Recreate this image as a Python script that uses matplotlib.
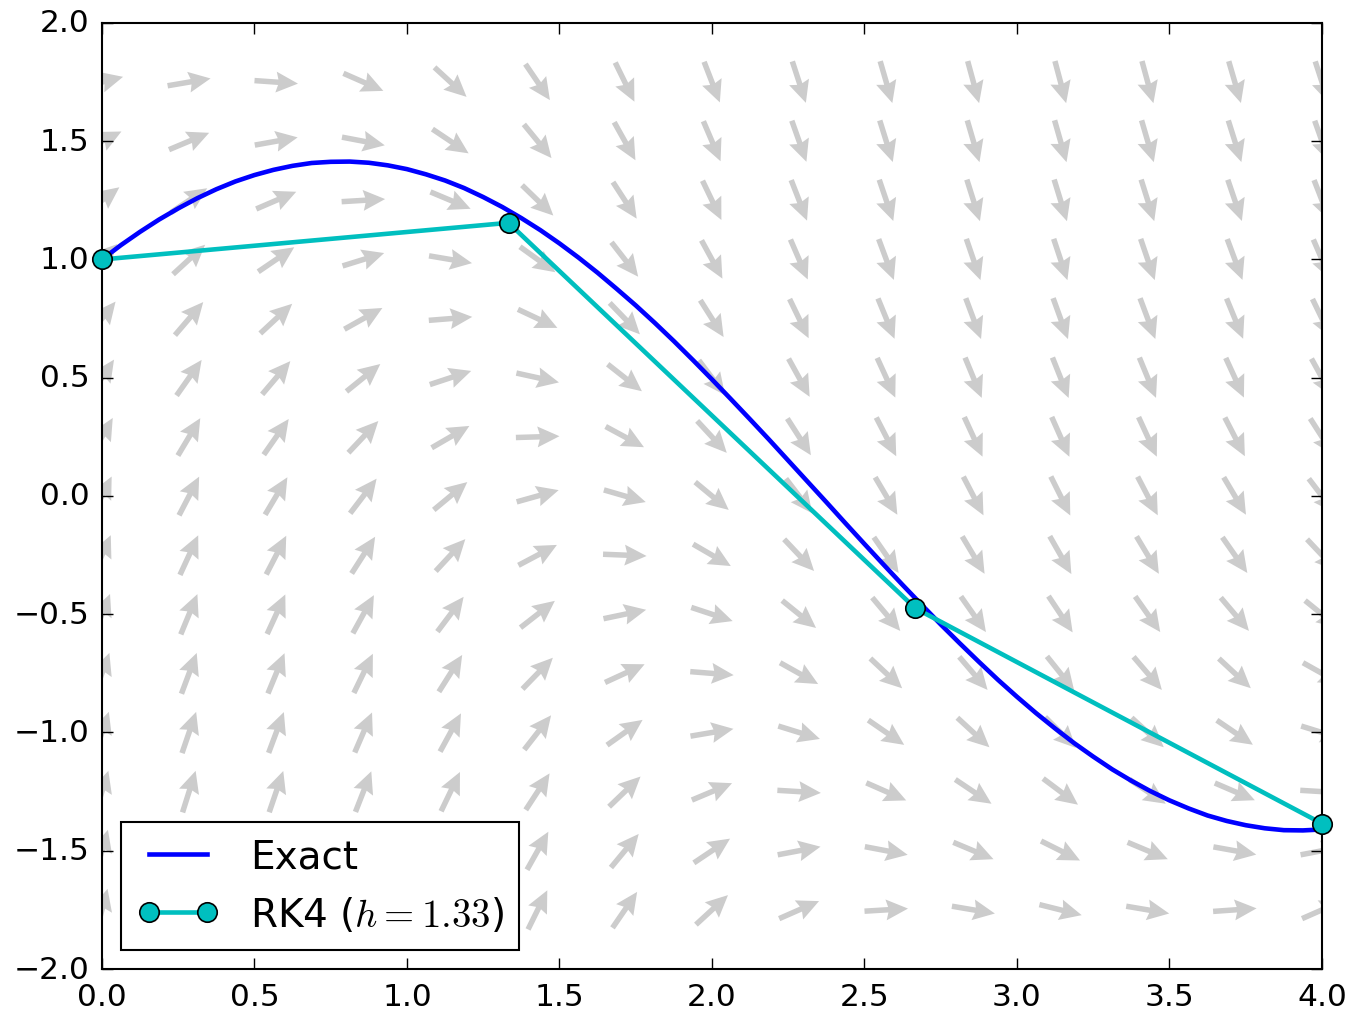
import numpy as np
import matplotlib
matplotlib.use('Agg')
import matplotlib.pyplot as plt

plt.style.use('classic')
plt.rcParams['mathtext.fontset'] = 'cm'
plt.rcParams['font.family'] = ['DejaVu Sans']

# exact solution
x_exact = [0.0, 0.0625, 0.125, 0.1875, 0.25, 0.3125, 0.375, 0.4375, 0.5, 0.5625,
           0.625, 0.6875, 0.75, 0.8125, 0.875, 0.9375, 1.0, 1.0625, 1.125, 1.1875,
           1.25, 1.3125, 1.375, 1.4375, 1.5, 1.5625, 1.625, 1.6875, 1.75, 1.8125,
           1.875, 1.9375, 2.0, 2.0625, 2.125, 2.1875, 2.25, 2.3125, 2.375, 2.4375,
           2.5, 2.5625, 2.625, 2.6875, 2.75, 2.8125, 2.875, 2.9375, 3.0, 3.0625,
           3.125, 3.1875, 3.25, 3.3125, 3.375, 3.4375, 3.5, 3.5625, 3.625, 3.6875,
           3.75, 3.8125, 3.875, 3.9375, 4.0]
y_exact = [1.000, 1.061, 1.117, 1.169, 1.216, 1.259, 1.297, 1.330, 1.357, 1.379,
           1.396, 1.408, 1.413, 1.414, 1.409, 1.398, 1.382, 1.360, 1.334, 1.302,
           1.264, 1.222, 1.175, 1.124, 1.068, 1.008, 0.944, 0.876, 0.806, 0.732,
           0.655, 0.575, 0.493, 0.409, 0.324, 0.238, 0.150, 0.062, -0.026, -0.115,
           -0.203, -0.290, -0.376, -0.460, -0.543, -0.623, -0.701, -0.777, -0.849, -0.918,
           -0.983, -1.045, -1.102, -1.156, -1.204, -1.248, -1.287, -1.321, -1.351, -1.374,
           -1.392, -1.405, -1.413, -1.414, -1.410]

# RK4 steps
x_rk4 = [0.0, 1.333, 2.667, 4.0]
y_rk4 = [1.0, 1.155, -0.475, -1.385]

# direction field: slope of each arrow, rows from y=-1.75 (bottom) to y=1.75 (top)
slopes = [
    [3.75, 3.67, 3.43, 3.06, 2.58, 2.03, 1.46, 0.92, 0.44, 0.06, -0.17, -0.25, -0.17, 0.07, 0.44],
    [3.50, 3.42, 3.18, 2.81, 2.33, 1.78, 1.21, 0.67, 0.19, -0.19, -0.42, -0.50, -0.42, -0.18, 0.19],
    [3.25, 3.17, 2.93, 2.56, 2.08, 1.53, 0.96, 0.42, -0.06, -0.44, -0.67, -0.75, -0.67, -0.43, -0.06],
    [3.00, 2.92, 2.68, 2.31, 1.83, 1.28, 0.71, 0.17, -0.31, -0.69, -0.92, -1.00, -0.92, -0.68, -0.31],
    [2.75, 2.67, 2.43, 2.06, 1.58, 1.03, 0.46, -0.08, -0.56, -0.94, -1.17, -1.25, -1.17, -0.93, -0.56],
    [2.50, 2.42, 2.18, 1.81, 1.33, 0.78, 0.21, -0.33, -0.81, -1.19, -1.42, -1.50, -1.42, -1.18, -0.81],
    [2.25, 2.17, 1.93, 1.56, 1.08, 0.53, -0.04, -0.58, -1.06, -1.44, -1.67, -1.75, -1.67, -1.43, -1.06],
    [2.00, 1.92, 1.68, 1.31, 0.83, 0.28, -0.29, -0.83, -1.31, -1.69, -1.92, -2.00, -1.92, -1.68, -1.31],
    [1.75, 1.67, 1.43, 1.06, 0.58, 0.03, -0.54, -1.08, -1.56, -1.94, -2.17, -2.25, -2.17, -1.93, -1.56],
    [1.50, 1.42, 1.18, 0.81, 0.33, -0.22, -0.79, -1.33, -1.81, -2.19, -2.42, -2.50, -2.42, -2.18, -1.81],
    [1.25, 1.17, 0.93, 0.56, 0.08, -0.47, -1.04, -1.58, -2.06, -2.44, -2.67, -2.75, -2.67, -2.43, -2.06],
    [1.00, 0.92, 0.68, 0.31, -0.17, -0.72, -1.29, -1.83, -2.31, -2.69, -2.92, -3.00, -2.92, -2.68, -2.31],
    [0.75, 0.67, 0.43, 0.06, -0.42, -0.97, -1.54, -2.08, -2.56, -2.94, -3.17, -3.25, -3.17, -2.93, -2.56],
    [0.50, 0.42, 0.18, -0.19, -0.67, -1.22, -1.79, -2.33, -2.81, -3.19, -3.42, -3.50, -3.42, -3.18, -2.81],
    [0.25, 0.17, -0.07, -0.44, -0.92, -1.47, -2.04, -2.58, -3.06, -3.44, -3.67, -3.75, -3.67, -3.43, -3.06],
]

fig = plt.figure(figsize=(13.52, 10.12), dpi=100, facecolor='white')
ax = fig.add_axes([0.0754, 0.0415, 0.9024, 0.9348])

S = np.array(slopes)
gx = np.linspace(0, 4, S.shape[1])
gy = np.linspace(-1.75, 1.75, S.shape[0])
X, Y = np.meshgrid(gx, gy)
norm = np.sqrt(1 + S**2)
ax.quiver(X, Y, 1 / norm, S / norm, color='0.8', pivot='mid',
          scale=28, width=0.0045, headwidth=3.8, headlength=4.0,
          headaxislength=3.6, zorder=1)

ax.plot(x_exact, y_exact, 'b-', lw=3.3, label='Exact', zorder=3)
ax.plot(x_rk4, y_rk4, 'c-o', lw=3.3, ms=14, mec='k', mew=1.2,
        label='RK4 ($h=1.33$)', zorder=4, clip_on=False)

ax.set_xlim(0, 4)
ax.set_ylim(-2, 2)
ax.set_xticks(np.arange(0, 4.01, 0.5))
ax.set_yticks(np.arange(-2, 2.01, 0.5))
ax.tick_params(labelsize=22.5, length=8, width=1, pad=9)
for s in ax.spines.values():
    s.set_linewidth(1.5)

leg = ax.legend(loc='lower left', fontsize=28, numpoints=2, handlelength=2.1,
                borderpad=0.4, labelspacing=0.5, handletextpad=0.8,
                borderaxespad=0.5)
leg.get_frame().set_linewidth(1.5)

fig.savefig('out.png', dpi=100, facecolor='white')
